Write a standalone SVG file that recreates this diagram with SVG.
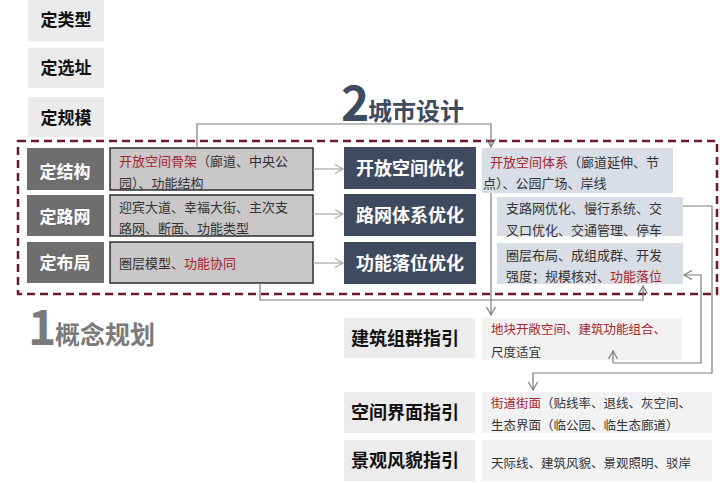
<svg xmlns="http://www.w3.org/2000/svg" width="720" height="483" viewBox="0 0 720 483">
<style>
text{font-family:"Noto Sans CJK SC","Noto Sans",sans-serif;}
.lt{fill:#ebebeb;}
.ltt{font-size:17px;font-weight:bold;fill:#111;}
.dg{fill:#6e6e6e;}
.dgt{font-size:17px;font-weight:bold;fill:#fff;}
.desc{fill:#c9c7c7;stroke:#2e2e2e;stroke-width:1.5;}
.nv{fill:#3e4a5e;}
.nvt{font-size:18px;font-weight:bold;fill:#fff;}
.bl{fill:#d9dde5;}
.pl{fill:#f3f2f2;}
.gd{fill:#ececec;}
.gdt{font-size:18px;font-weight:bold;fill:#111;}
.t{font-size:13px;fill:#333;}
.ts{font-size:12.5px;fill:#333;}
.r{fill:#a3252f;}
.c{fill:none;stroke:#7c7c7c;stroke-width:1.2;}
.ca{fill:none;stroke:#a8a8a8;stroke-width:1.2;}
</style>
<defs>
<marker id="ah" markerUnits="userSpaceOnUse" markerWidth="12" markerHeight="12" refX="9" refY="5" orient="auto">
<path d="M1,0.5 L9,5 L1,9.5" fill="none" stroke="#7c7c7c" stroke-width="1.2"/>
</marker>
<marker id="ahl" markerUnits="userSpaceOnUse" markerWidth="12" markerHeight="12" refX="9" refY="5" orient="auto">
<path d="M1,0.5 L9,5 L1,9.5" fill="none" stroke="#a8a8a8" stroke-width="1.2"/>
</marker>
</defs>
<rect width="720" height="483" fill="#fff"/>

<g id="titles">
<text x="341" y="121" font-size="48" font-weight="bold" fill="#3e4a5e">2</text>
<text x="368" y="120" font-size="24" font-weight="bold" fill="#3e4a5e">城市设计</text>
<text x="28" y="345" font-size="48" font-weight="bold" fill="#7a7a7a">1</text>
<text x="55" y="344" font-size="25" font-weight="bold" fill="#7a7a7a">概念规划</text>
</g>

<g id="n-leixing"><rect class="lt" x="28" y="-2" width="76" height="43"/><text class="ltt" x="66" y="26" text-anchor="middle">定类型</text></g>
<g id="n-xuanzhi"><rect class="lt" x="28" y="48" width="76" height="40"/><text class="ltt" x="66" y="74" text-anchor="middle">定选址</text></g>
<g id="n-guimo"><rect class="lt" x="28" y="97" width="76" height="40"/><text class="ltt" x="66" y="124" text-anchor="middle">定规模</text></g>

<rect id="frame" x="18" y="141" width="699" height="153" fill="none" stroke="#6b1a2a" stroke-width="2.5" stroke-dasharray="8 5"/>

<g id="n-jiegou"><rect class="dg" x="27" y="148" width="77" height="42"/><text class="dgt" x="65" y="178" text-anchor="middle">定结构</text></g>
<g id="n-luwang"><rect class="dg" x="27" y="195" width="77" height="41"/><text class="dgt" x="65" y="223" text-anchor="middle">定路网</text></g>
<g id="n-buju"><rect class="dg" x="27" y="242" width="77" height="41"/><text class="dgt" x="65" y="269" text-anchor="middle">定布局</text></g>

<g id="d-jiegou"><rect class="desc" x="110" y="148" width="203" height="42"/>
<text class="t" x="119" y="166"><tspan class="r">开放空间骨架</tspan>（廊道、中央公</text>
<text class="t" x="119" y="188">园）、功能结构</text></g>
<g id="d-luwang"><rect class="desc" x="110" y="195" width="203" height="41"/>
<text class="t" x="119" y="212">迎宾大道、幸福大街、主次支</text>
<text class="t" x="119" y="233">路网、断面、功能类型</text></g>
<g id="d-buju"><rect class="desc" x="110" y="242" width="203" height="41"/>
<text class="t" x="119" y="268">圈层模型、<tspan class="r">功能协同</tspan></text></g>

<g id="n-kaifang"><rect class="nv" x="344" y="147" width="132" height="42"/><text class="nvt" x="410" y="175" text-anchor="middle">开放空间优化</text></g>
<g id="n-luwangyh"><rect class="nv" x="344" y="194" width="132" height="42"/><text class="nvt" x="410" y="222" text-anchor="middle">路网体系优化</text></g>
<g id="n-gongneng"><rect class="nv" x="344" y="242" width="132" height="42"/><text class="nvt" x="410" y="270" text-anchor="middle">功能落位优化</text></g>

<g id="r-kaifang"><rect class="bl" x="482" y="148" width="191" height="45"/>
<text class="t" x="490" y="167"><tspan class="r">开放空间体系</tspan>（廊道延伸、节</text>
<text class="t" x="483" y="188">点）、公园广场、岸线</text></g>
<g id="r-luwang"><rect class="bl" x="497" y="197" width="186" height="39"/>
<text class="t" x="506" y="213">支路网优化、慢行系统、交</text>
<text class="t" x="506" y="235">叉口优化、交通管理、停车</text></g>
<g id="r-gongneng"><rect class="bl" x="497" y="243" width="186" height="41"/>
<text class="t" x="506" y="260">圈层布局、成组成群、开发</text>
<text class="t" x="506" y="281">强度；规模核对、<tspan class="r">功能落位</tspan></text></g>

<g id="n-jianzhu"><rect class="gd" x="344" y="318" width="131" height="40"/><text class="gdt" x="405" y="345" text-anchor="middle">建筑组群指引</text></g>
<g id="n-kongjian"><rect class="gd" x="344" y="392" width="131" height="41"/><text class="gdt" x="405" y="419" text-anchor="middle">空间界面指引</text></g>
<g id="n-jingguan"><rect class="gd" x="344" y="440" width="131" height="41"/><text class="gdt" x="405" y="467" text-anchor="middle">景观风貌指引</text></g>

<g id="r-jianzhu"><rect class="pl" x="482" y="318" width="200" height="42"/>
<text class="ts r" x="491" y="334">地块开敞空间、建筑功能组合、</text>
<text class="ts" x="491" y="357">尺度适宜</text></g>
<g id="r-kongjian"><rect class="pl" x="482" y="392" width="230" height="41"/>
<text class="ts" x="491" y="408"><tspan class="r">街道街面</tspan>（贴线率、退线、灰空间、</text>
<text class="ts" x="491" y="430">生态界面（临公园、临生态廊道）</text></g>
<g id="r-jingguan"><rect class="pl" x="482" y="440" width="230" height="41"/>
<text class="ts" x="491" y="468">天际线、建筑风貌、景观照明、驳岸</text></g>

<g id="connectors">
<path class="c" d="M197,148 V124 H491 V147" marker-end="url(#ah)"/>
<path class="ca" d="M313,169 H343" marker-end="url(#ahl)"/>
<path class="ca" d="M313,214 H343" marker-end="url(#ahl)"/>
<path class="ca" d="M313,263 H343" marker-end="url(#ahl)"/>
<path class="c" d="M491,193 V315" marker-end="url(#ah)"/>
<path class="c" d="M260,283 V300 H643 V286" marker-end="url(#ah)"/>
<path class="c" d="M683,206 H712 V373 H533 V390" marker-end="url(#ah)"/>
<path class="c" d="M613,363 H701 V275 H684" marker-end="url(#ah)"/>
<path class="c" d="M613,363 V351" marker-end="url(#ah)"/>
</g>
</svg>
